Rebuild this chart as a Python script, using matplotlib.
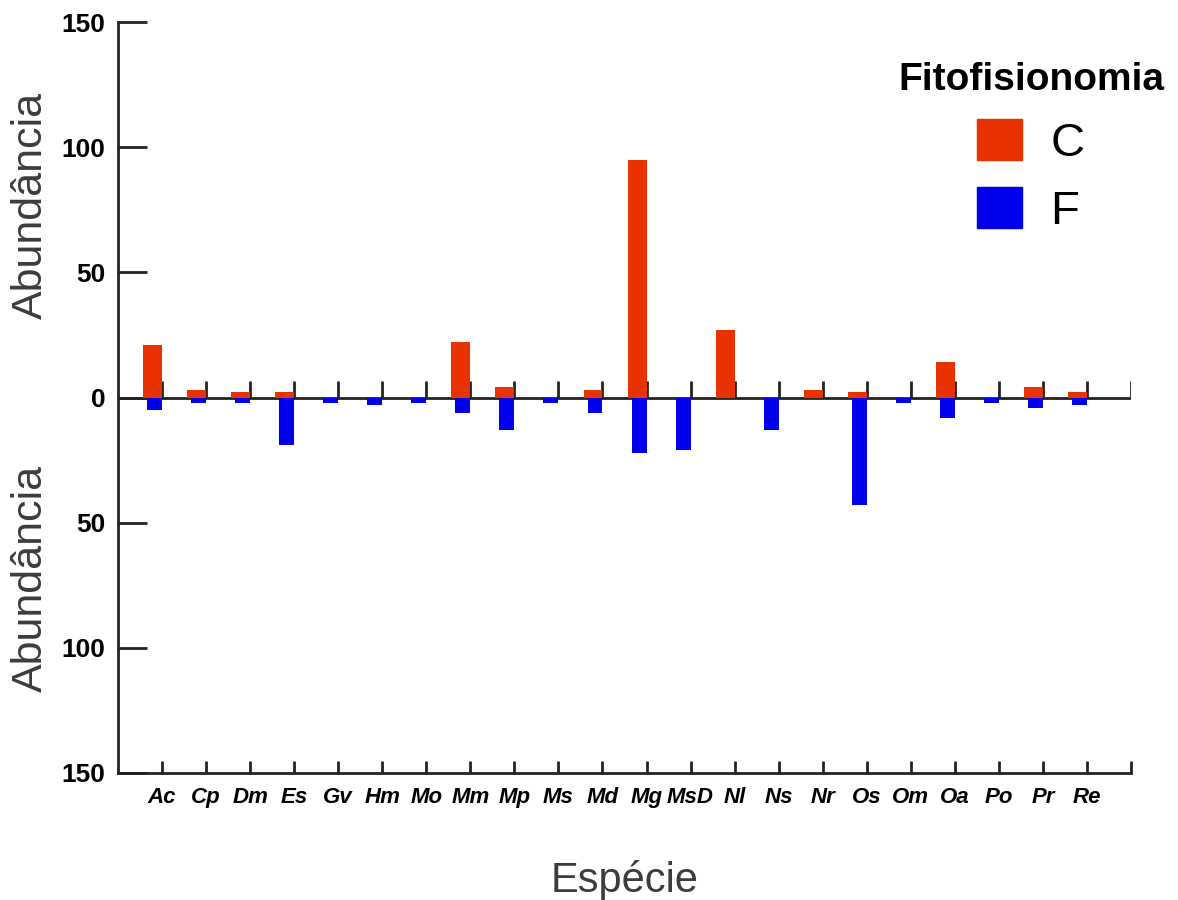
import numpy as np
import matplotlib
matplotlib.use('Agg')
import matplotlib.pyplot as plt
from matplotlib.patches import Patch

plt.rcParams['font.family'] = ['Liberation Sans', 'DejaVu Sans']

# abundância por espécie nas duas fitofisionomias
especies = ['Ac', 'Cp', 'Dm', 'Es', 'Gv', 'Hm', 'Mo', 'Mm', 'Mp', 'Ms', 'Md',
            'Mg', 'MsD', 'Nl', 'Ns', 'Nr', 'Os', 'Om', 'Oa', 'Po', 'Pr', 'Re']
abund_c = [21, 3, 2, 2, 0, 0, 0, 22, 4, 0, 3,
           95, 0, 27, 0, 3, 2, 0, 14, 0, 4, 2]
abund_f = [5, 2, 2, 19, 2, 3, 2, 6, 13, 2, 6,
           22, 21, 0, 13, 0, 43, 2, 8, 2, 4, 3]
yticks = [-150, -100, -50, 0, 50, 100, 150]

cor_c = '#e83200'
cor_f = '#0000ee'

fig = plt.figure(figsize=(11.78, 9), dpi=100)
ax = fig.add_axes([118/1178, 1 - 773/900, (1131 - 118)/1178, (773 - 22)/900])

x = np.arange(len(especies))
# barras encostadas à direita de cada posição
ax.bar(x, abund_c, width=-0.43, align='edge', color=cor_c, zorder=3)
ax.bar(x, [-v for v in abund_f], width=-0.34, align='edge', color=cor_f, zorder=3)

# linha do zero com marcas para cima
ax.plot([-1, 22], [0, 0], color='#222222', lw=2, zorder=2, solid_capstyle='butt')
ax.vlines(list(x) + [22], 0, 6.5, color='#222222', lw=2, zorder=2)

ax.set_xlim(-1, 22)
ax.set_ylim(-150, 150)

for s in ['top', 'right']:
    ax.spines[s].set_visible(False)
for s in ['left', 'bottom']:
    ax.spines[s].set_linewidth(2)
    ax.spines[s].set_color('#222222')

ax.set_yticks(yticks)
ax.set_yticklabels([str(abs(v)) for v in yticks], fontsize=19, fontweight='bold')
ax.tick_params(axis='y', direction='in', length=21, width=2, pad=9, color='#222222')

ax.set_xticks(list(x) + [22])
ax.set_xticklabels(especies + [''], fontsize=16, fontweight='bold', fontstyle='italic')
ax.tick_params(axis='x', direction='in', length=9, width=2, pad=10, color='#222222')

ax.text(x=0.5, y=-0.143, s='Espécie', transform=ax.transAxes, ha='center', va='center',
        fontsize=30, color='#3c3c3c')
fig.text(31/1178, 1 - 205/900, 'Abundância', rotation=90, ha='center', va='center',
         fontsize=31, color='#3c3c3c')
fig.text(31/1178, 1 - 578/900, 'Abundância', rotation=90, ha='center', va='center',
         fontsize=31, color='#3c3c3c')

handles = [Patch(color=cor_c, label='C'), Patch(color=cor_f, label='F')]
leg = fig.legend(handles=handles, title='Fitofisionomia', loc='upper left',
                 bbox_to_anchor=(898/1178, 1 - 62/900), frameon=False,
                 fontsize=34, handlelength=0.95, handleheight=0.95,
                 handletextpad=0.6, labelspacing=0.45, borderpad=0, borderaxespad=0)
leg.get_title().set_fontsize(28)
leg.get_title().set_fontweight('bold')

fig.savefig('out.png', dpi=100, facecolor='white')
